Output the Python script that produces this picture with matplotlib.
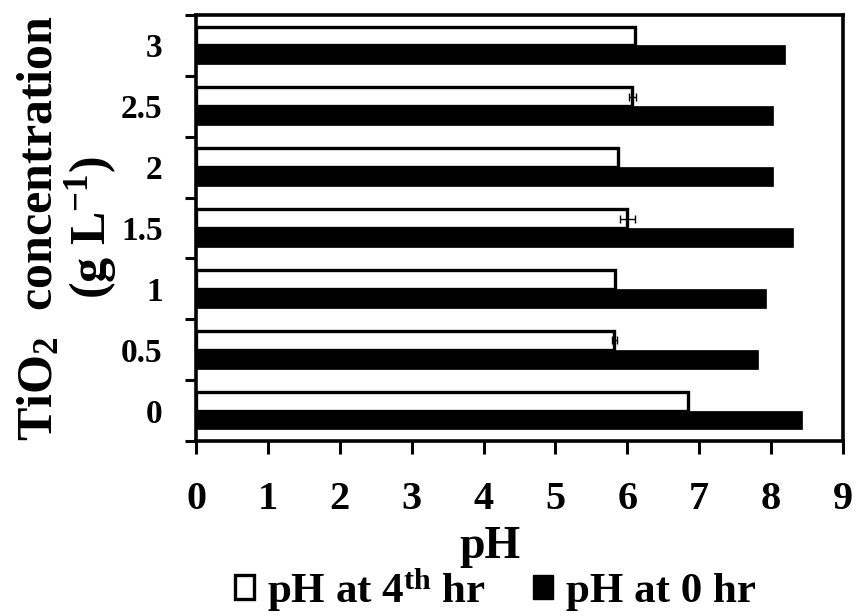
import numpy as np
import matplotlib
matplotlib.use("Agg")
import matplotlib.pyplot as plt
from matplotlib.patches import Patch

# TiO2 dose (g/L) and measured pH
concentrations = ["0", "0.5", "1", "1.5", "2", "2.5", "3"]
ph_4hr = [6.85, 5.82, 5.83, 6.0, 5.87, 6.07, 6.1]
ph_4hr_err = [0.0, 0.03, 0.0, 0.1, 0.0, 0.05, 0.0]
ph_0hr = [8.43, 7.82, 7.93, 8.3, 8.02, 8.03, 8.2]
x_ticks = [0, 1, 2, 3, 4, 5, 6, 7, 8, 9]

plt.rcParams["font.family"] = ["Liberation Serif", "DejaVu Serif"]
plt.rcParams["font.weight"] = "bold"
plt.rcParams["mathtext.fontset"] = "custom"
plt.rcParams["mathtext.rm"] = "Liberation Serif:bold"
plt.rcParams["mathtext.it"] = "Liberation Serif:bold"
plt.rcParams["mathtext.bf"] = "Liberation Serif:bold"

fig = plt.figure(figsize=(8.56, 6.16), dpi=100)
ax = fig.add_axes([196 / 856, 1 - 441 / 616, 647 / 856, 426 / 616])

y = np.arange(len(concentrations))
h = 0.31
ax.barh(y + h / 2, ph_4hr, height=h, color="white", edgecolor="black",
        linewidth=2.4, xerr=ph_4hr_err,
        error_kw=dict(ecolor="black", elinewidth=1.0, capsize=3, capthick=1.0),
        label=r"pH at 4$^{th}$ hr", zorder=3)
ax.barh(y - h / 2, ph_0hr, height=h, color="black", edgecolor="black",
        linewidth=0.5, label="pH at 0 hr", zorder=3)

ax.set_xlim(0, 9)
ax.set_ylim(-0.5, len(concentrations) - 0.5)
ax.set_xticks(x_ticks)
ax.set_xticklabels([str(t) for t in x_ticks], fontsize=29, fontweight="bold")
ax.tick_params(axis="x", direction="out", length=9, width=2.2, pad=20)

# category labels at the centres, tick marks on the boundaries
ax.set_yticks(y)
ax.set_yticklabels(concentrations, fontsize=24, fontweight="bold")
ax.set_yticks(np.arange(-0.5, len(concentrations)), minor=True)
ax.tick_params(axis="y", which="major", length=0, pad=24)
ax.tick_params(axis="y", which="minor", direction="out", length=8, width=2.2)

for sp in ax.spines.values():
    sp.set_linewidth(2.6)
    sp.set_color("black")

ax.set_xlabel("pH", fontsize=33, fontweight="bold", va="top")
ax.xaxis.set_label_coords(0.454, -0.2)

ax.set_ylabel("TiO$_2$  concentration\n(g L$^{-1}$)", fontsize=36,
              fontweight="bold", ha="center", va="center",
              multialignment="center", linespacing=1.0)
ax.yaxis.set_label_coords(-0.198, 0.5)

handles = [Patch(facecolor="white", edgecolor="black", linewidth=2.4),
           Patch(facecolor="black", edgecolor="black")]
fig.legend(handles, [r"pH at 4$^{th}$ hr", "pH at 0 hr"],
           loc="center", bbox_to_anchor=(495 / 856, 1 - 590 / 616),
           ncol=2, frameon=False, fontsize=31, handlelength=0.45,
           handleheight=0.45, handletextpad=0.3, columnspacing=1.1,
           borderpad=0.0)

fig.savefig("out.png", dpi=100)
